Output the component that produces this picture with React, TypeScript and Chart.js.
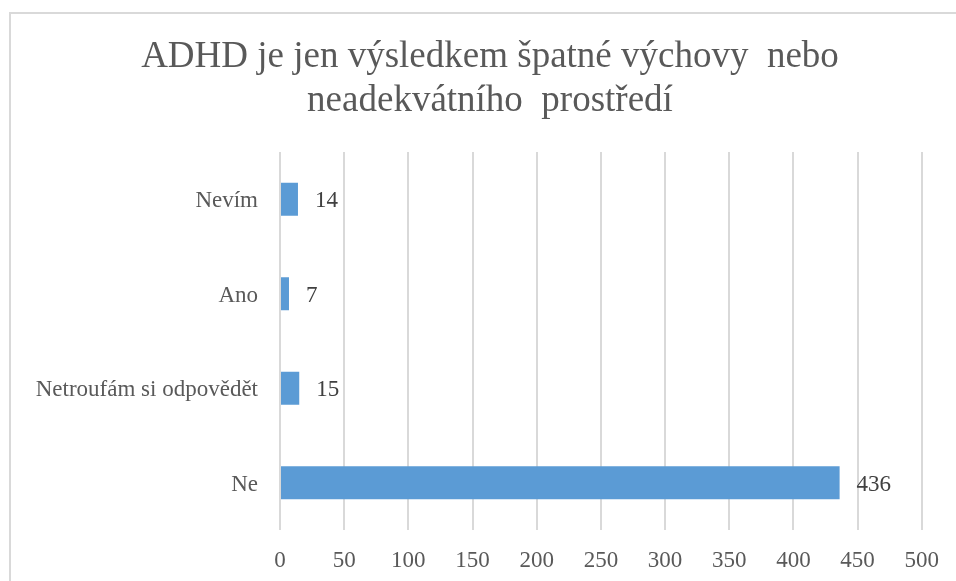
import React, { useEffect, useRef } from "react";
import { Chart, registerables } from "chart.js";

Chart.register(...registerables);

const categories = ["Nevím", "Ano", "Netroufám si odpovědět", "Ne"];
const values = [14, 7, 15, 436];
const titleLines = ["ADHD je jen výsledkem špatné výchovy  nebo", "neadekvátního  prostředí"];
const xMin = 0;
const xMax = 500;
const xStep = 50;

const FONT = "'Liberation Serif', 'Times New Roman', serif";

const dataLabelPlugin = {
  id: "dataLabels",
  afterDatasetsDraw(chart: any) {
    const ctx = chart.ctx;
    const meta = chart.getDatasetMeta(0);
    ctx.save();
    ctx.font = `23px ${FONT}`;
    ctx.fillStyle = "#404040";
    ctx.textAlign = "left";
    ctx.textBaseline = "middle";
    meta.data.forEach((bar: any, i: number) => {
      ctx.fillText(String(values[i]), bar.x + 17, bar.y + 2);
    });
    ctx.restore();
  },
};

const titlePlugin = {
  id: "customTitle",
  afterDraw(chart: any) {
    const ctx = chart.ctx;
    ctx.save();
    ctx.font = `37px ${FONT}`;
    ctx.fillStyle = "#595959";
    ctx.textAlign = "center";
    ctx.textBaseline = "alphabetic";
    titleLines.forEach((line, i) => {
      ctx.fillText(line, 490, 67 + i * 44);
    });
    ctx.restore();
  },
};

export default function App() {
  const ref = useRef<HTMLCanvasElement>(null);
  useEffect(() => {
    if (!ref.current) return;
    const chart = new Chart(ref.current, {
      type: "bar",
      data: {
        labels: categories,
        datasets: [
          {
            data: values,
            backgroundColor: "#5b9bd5",
            borderWidth: 0,
            barPercentage: 0.35,
            categoryPercentage: 1,
          },
        ],
      },
      options: {
        indexAxis: "y",
        animation: false,
        responsive: true,
        maintainAspectRatio: false,
        layout: { padding: { left: 0, right: 34, top: 152, bottom: 0 } },
        plugins: {
          legend: { display: false },
          tooltip: { enabled: false },
          title: { display: false },
        },
        scales: {
          x: {
            min: xMin,
            max: xMax,
            border: { display: false },
            grid: { color: "#d9d9d9", lineWidth: 2, drawTicks: false },
            ticks: {
              stepSize: xStep,
              color: "#595959",
              font: { family: FONT, size: 23 },
              padding: 17,
            },
            afterFit(scale: any) {
              scale.height = 51;
            },
          },
          y: {
            border: { display: false },
            grid: { display: false },
            ticks: {
              color: "#595959",
              font: { family: FONT, size: 23 },
              padding: 14,
              labelOffset: 2,
            },
            afterFit(scale: any) {
              scale.width = 280;
            },
          },
        },
      },
      plugins: [dataLabelPlugin, titlePlugin],
    });
    return () => chart.destroy();
  }, []);

  return (
    <div style={{ position: "fixed", left: 0, top: 0, width: 956, height: 581, background: "#fff" }}>
      <div
        style={{
          position: "absolute",
          left: 9,
          top: 12,
          width: 1000,
          height: 700,
          border: "2px solid #d9d9d9",
          boxSizing: "border-box",
        }}
      />
      <div style={{ position: "absolute", left: 0, top: 0, width: 956, height: 581 }}>
        <canvas ref={ref} />
      </div>
    </div>
  );
}
